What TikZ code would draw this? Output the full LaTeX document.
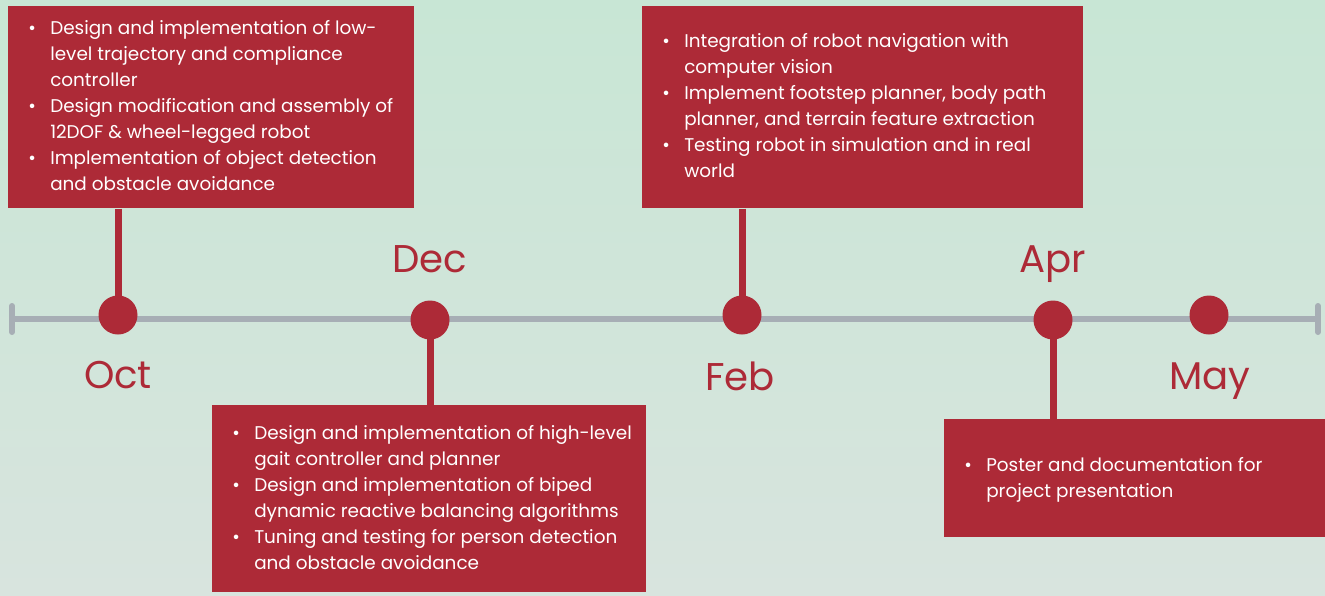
\documentclass[tikz,border=0pt]{standalone}
\usepackage{fontspec}
\setmainfont{Poppins}
\definecolor{tlred}{HTML}{AD2A37}
\definecolor{tlgray}{HTML}{A7AEB5}
\definecolor{bgtop}{HTML}{C8E6D5}
\definecolor{bgbot}{HTML}{D8E4DE}
\newcommand{\bl}{\makebox[16.5pt][l]{\textbullet}}
\newcommand{\ind}{\hspace*{16.5pt}}
\begin{document}
\begin{tikzpicture}[x=0.75pt,y=-0.75pt,
  redbox/.style={fill=tlred, draw=none, inner sep=0pt, anchor=north west},
  txt/.style={text=white, inner sep=0pt, anchor=north west, align=left,
    font=\fontsize{13.8pt}{19.5pt}\selectfont},
  dot/.style={circle, fill=tlred, draw=none, minimum size=29.25pt, inner sep=0pt},
  stem/.style={draw=tlred, line width=5.25pt},
  tl/.style={draw=tlgray, line width=4.5pt},
  tick/.style={draw=tlgray, line width=4.5pt, line cap=round},
  month/.style={text=tlred, inner sep=0pt, anchor=base, font=\fontsize{29pt}{34pt}\selectfont}]
\useasboundingbox (0,0) rectangle (1325,596);
\shade[top color=bgtop, bottom color=bgbot] (0,0) rectangle (1325,596);
% timeline
\coordinate (L) at (12,319);
\coordinate (R) at (1318,319);
\coordinate (Lt) at (12,306);
\coordinate (Lb) at (12,332);
\coordinate (Rt) at (1318,306);
\coordinate (Rb) at (1318,332);
\draw[tl] (L) -- (R);
\draw[tick] (Lt) -- (Lb);
\draw[tick] (Rt) -- (Rb);
% boxes
\node[redbox, minimum width=304.5pt, minimum height=151.5pt] (b1) at (8,6) {};
\node[redbox, minimum width=330.75pt, minimum height=151.5pt] (b3) at (642,6) {};
\node[redbox, minimum width=325.5pt, minimum height=140.25pt] (b2) at (212,405) {};
\node[redbox, minimum width=285.75pt, minimum height=88.5pt] (b4) at (944,419) {};
% dot centres
\coordinate (p1) at (118,315);
\coordinate (p2) at (430,320);
\coordinate (p3) at (742,315);
\coordinate (p4) at (1053,320);
\coordinate (p5) at (1209,315);
% stems
\draw[stem] (b1.south -| p1) -- (p1);
\draw[stem] (b3.south -| p3) -- (p3);
\draw[stem] (p2) -- (b2.north -| p2);
\draw[stem] (p4) -- (b4.north -| p4);
% dots
\node[dot] (c1) at (p1) {};
\node[dot] (c2) at (p2) {};
\node[dot] (c3) at (p3) {};
\node[dot] (c4) at (p4) {};
\node[dot] (c5) at (p5) {};
% months
\node[month] (m1) at (118,388) {Oct};
\node[month] (m2) at (430,272) {Dec};
\node[month] (m3) at (740,390) {Feb};
\node[month] (m4) at (1053,272) {Apr};
\node[month] (m5) at (1210,389) {May};
% texts
\node[txt] (t1) at (28,20) {\bl Design and implementation of low-\\\ind level trajectory and compliance\\\ind controller\\\bl Design modification and assembly of\\\ind 12DOF \& wheel-legged robot\\\bl Implementation of object detection\\\ind and obstacle avoidance};
\node[txt] (t3) at (662,33) {\bl Integration of robot navigation with\\\ind computer vision\\\bl Implement footstep planner, body path\\\ind planner, and terrain feature extraction\\\bl Testing robot in simulation and in real\\\ind world};
\node[txt] (t2) at (232,425) {\bl Design and implementation of high-level\\\ind gait controller and planner\\\bl Design and implementation of biped\\\ind dynamic reactive balancing algorithms\\\bl Tuning and testing for person detection\\\ind and obstacle avoidance};
\node[txt] (t4) at (964,457) {\bl Poster and documentation for\\\ind project presentation};
\end{tikzpicture}
\end{document}
